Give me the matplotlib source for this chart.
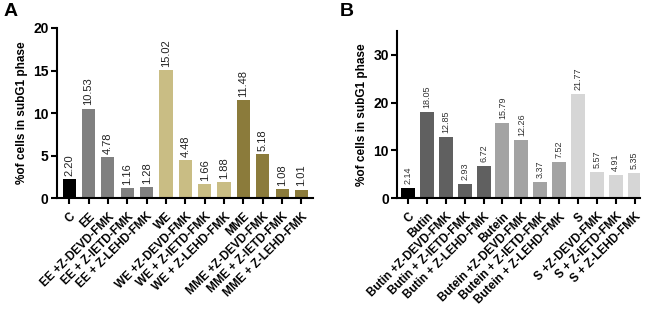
import matplotlib.pyplot as plt
import numpy as np

plt.rcParams['font.family'] = ['Liberation Sans', 'DejaVu Sans']

# panel A
labels_a = ['C', 'EE', 'EE +Z-DEVD-FMK', 'EE + Z-IETD-FMK', 'EE + Z-LEHD-FMK',
            'WE', 'WE +Z-DEVD-FMK', 'WE + Z-IETD-FMK', 'WE + Z-LEHD-FMK',
            'MME', 'MME +Z-DEVD-FMK', 'MME + Z-IETD-FMK', 'MME + Z-LEHD-FMK']
values_a = [2.20, 10.53, 4.78, 1.16, 1.28, 15.02, 4.48, 1.66, 1.88, 11.48, 5.18, 1.08, 1.01]
colors_a = ['#000000'] + ['#808080'] * 4 + ['#c9bd84'] * 4 + ['#8b7b3b'] * 4

# panel B
labels_b = ['C', 'Butin', 'Butin +Z-DEVD-FMK', 'Butin + Z-IETD-FMK', 'Butin + Z-LEHD-FMK',
            'Butein', 'Butein +Z-DEVD-FMK', 'Butein + Z-IETD-FMK', 'Butein + Z-LEHD-FMK',
            'S', 'S +Z-DEVD-FMK', 'S + Z-IETD-FMK', 'S + Z-LEHD-FMK']
values_b = [2.14, 18.05, 12.85, 2.93, 6.72, 15.79, 12.26, 3.37, 7.52, 21.77, 5.57, 4.91, 5.35]
colors_b = ['#000000'] + ['#606060'] * 4 + ['#a3a3a3'] * 4 + ['#d6d6d6'] * 4

fig = plt.figure(figsize=(6.5, 3.11), dpi=100)
ax_a = fig.add_axes([0.0877, 0.363, 0.394, 0.547])
ax_b = fig.add_axes([0.611, 0.363, 0.374, 0.537])


def draw(ax, labels, values, colors, ylim, yticks, width, xlim, vfs, off, vcol):
    x = np.arange(len(values))
    ax.bar(x, values, width=width, color=colors)
    for xi, v in zip(x, values):
        ax.text(xi, v + off, f'{v:.2f}', rotation=90, ha='center', va='bottom',
                fontsize=vfs, color=vcol)
    ax.set_ylim(*ylim)
    ax.set_xlim(*xlim)
    ax.set_yticks(yticks)
    ax.set_yticklabels([str(t) for t in yticks], fontweight='bold', fontsize=10)
    ax.set_xticks(x)
    ax.set_xticklabels(labels, rotation=45, ha='right', rotation_mode='anchor',
                       fontweight='bold', fontsize=8.5)
    for s in ['top', 'right']:
        ax.spines[s].set_visible(False)
    for s in ['left', 'bottom']:
        ax.spines[s].set_linewidth(1.5)
    ax.tick_params(width=1.5, length=4, direction='out', pad=2)
    ax.tick_params(axis='x', pad=5)
    ax.set_ylabel('%of cells in subG1 phase', fontweight='bold', fontsize=8.5)


draw(ax_a, labels_a, values_a, colors_a, (0, 20), [0, 5, 10, 15, 20], 0.68,
     (-0.63, 12.6), 8, 0.4, '#222222')
draw(ax_b, labels_b, values_b, colors_b, (0, 35), [0, 10, 20, 30], 0.74,
     (-0.58, 12.3), 6.5, 0.8, '#333333')

fig.text(0.005, 0.99, 'A', fontsize=14, fontweight='bold', va='top')
fig.text(0.522, 0.99, 'B', fontsize=14, fontweight='bold', va='top')

fig.savefig('out.png', dpi=100)
